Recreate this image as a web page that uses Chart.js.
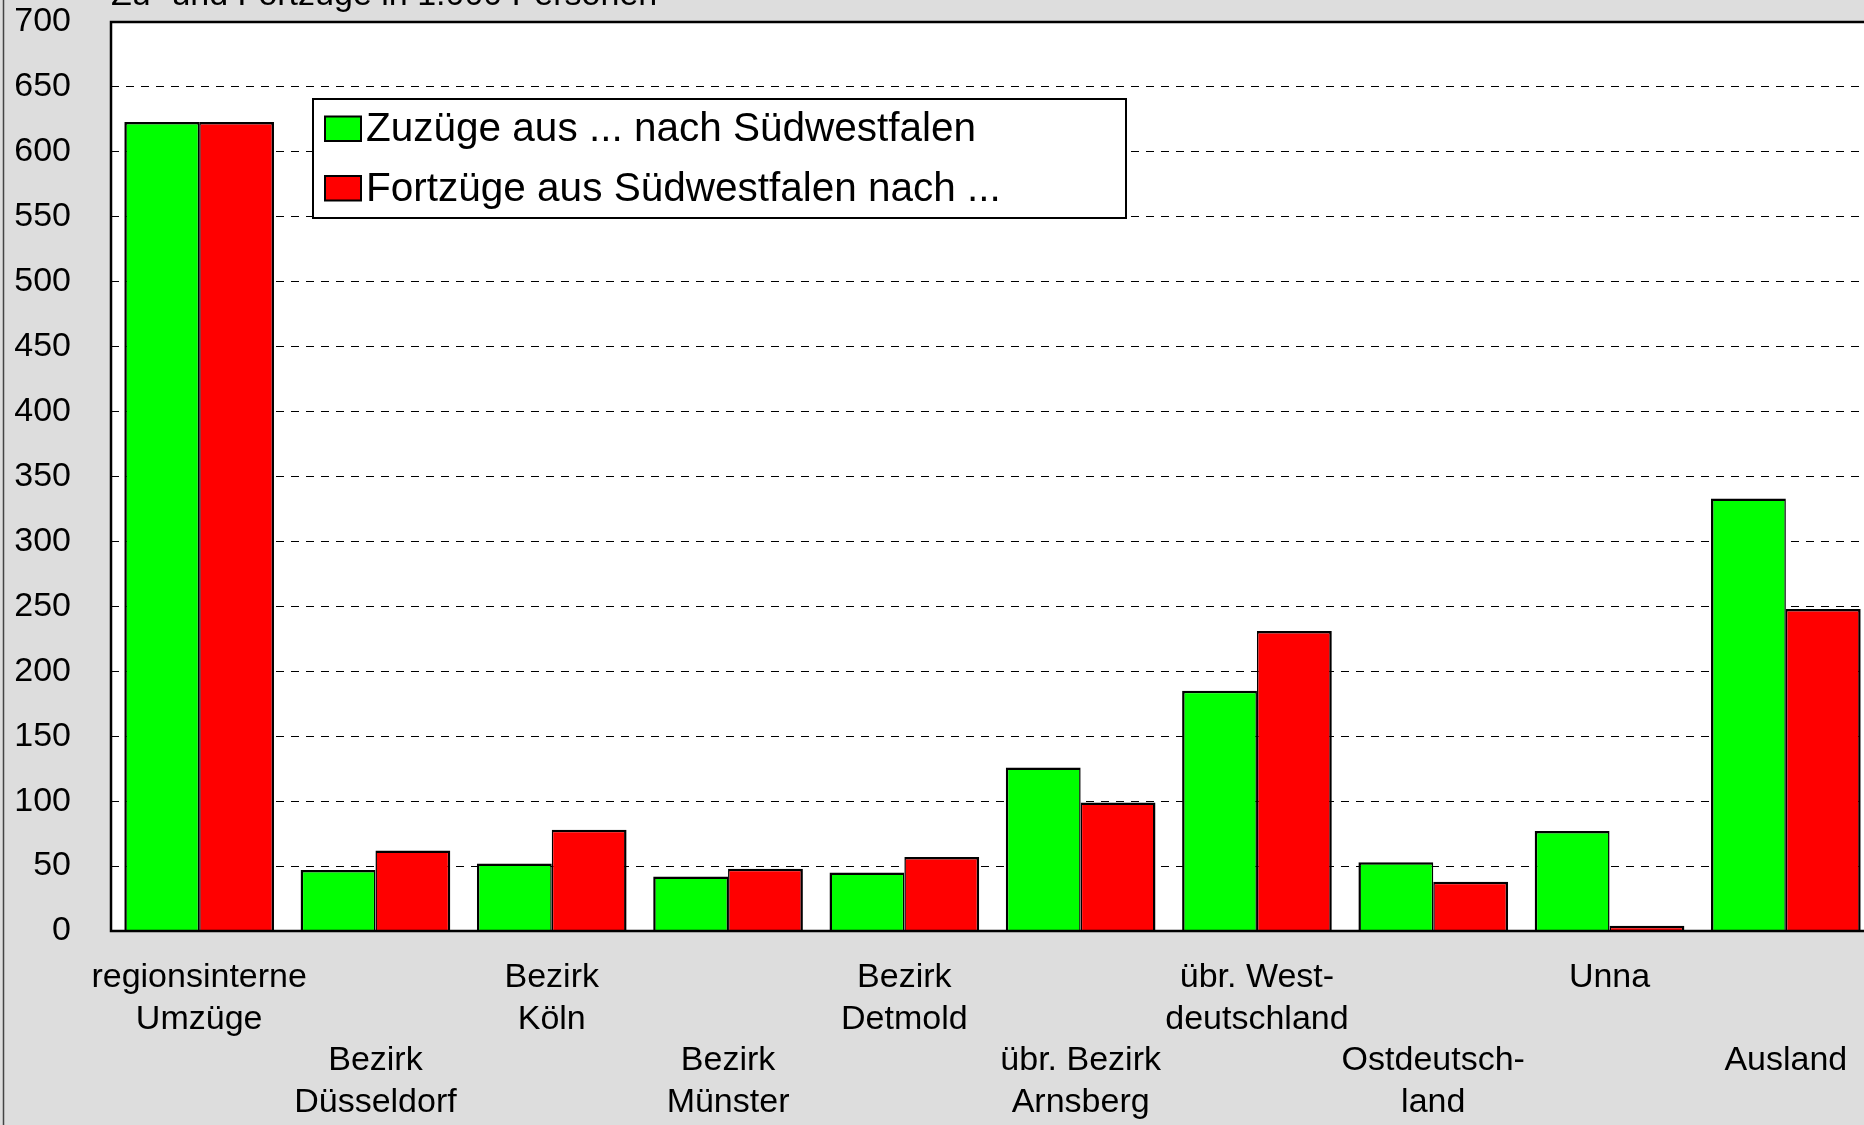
<!DOCTYPE html>
<html>
<head>
<meta charset="utf-8">
<script src="https://cdn.jsdelivr.net/npm/chart.js@4.4.1/dist/chart.umd.min.js"></script>
<style>
  html, body { margin: 0; padding: 0; overflow: hidden; background: #dddddd; }
  canvas { display: block; }
</style>
</head>
<body>
<canvas id="chart" width="1880" height="1125"></canvas>
<script>
const title = 'Zu- und Fortzüge in 1.000 Personen';
const categories = [
    ['regionsinterne', 'Umzüge'],
    ['Bezirk', 'Düsseldorf'],
    ['Bezirk', 'Köln'],
    ['Bezirk', 'Münster'],
    ['Bezirk', 'Detmold'],
    ['übr. Bezirk', 'Arnsberg'],
    ['übr. West-', 'deutschland'],
    ['Ostdeutsch-', 'land'],
    ['Unna'],
    ['Ausland']
];
const seriesNames = ['Zuzüge aus ... nach Südwestfalen', 'Fortzüge aus Südwestfalen nach ...'];
const zuzuege = [623, 47, 52, 42, 45, 126, 185, 53, 77, 333];
const fortzuege = [623, 62, 78, 48, 57, 99, 231, 38, 4, 248];
const yMin = 0;
const yMax = 700;
const yStep = 50;

const FONT = '"Liberation Sans", Arial, sans-serif';
Chart.defaults.font.family = FONT;
Chart.defaults.color = '#000';

const decor = {
    id: 'decor',
    beforeDraw(chart) {
        const {ctx, chartArea: a, width, height} = chart;
        ctx.save();
        ctx.fillStyle = '#dddddd';
        ctx.fillRect(0, 0, width, height);
        ctx.fillStyle = '#ffffff';
        ctx.fillRect(a.left, a.top, a.right - a.left, a.bottom - a.top);
        // outer frame, only the left side is in view
        ctx.strokeStyle = '#444';
        ctx.lineWidth = 1.5;
        ctx.beginPath();
        ctx.moveTo(3.5, 0);
        ctx.lineTo(3.5, height);
        ctx.stroke();
        // title, cut off at the top
        ctx.fillStyle = '#000';
        ctx.font = '34px ' + FONT;
        ctx.textBaseline = 'alphabetic';
        ctx.fillText(title, a.left, 5);
        ctx.restore();
    },
    afterDatasetsDraw(chart) {
        const {ctx, chartArea: a} = chart;
        ctx.save();
        ctx.strokeStyle = '#000';
        ctx.lineWidth = 2.5;
        ctx.strokeRect(a.left, a.top, a.right - a.left, a.bottom - a.top);
        ctx.restore();
    },
    afterDraw(chart) {
        const ctx = chart.ctx;
        const box = {x: 313, y: 99, w: 813, h: 119};
        ctx.save();
        ctx.fillStyle = '#fff';
        ctx.fillRect(box.x, box.y, box.w, box.h);
        ctx.strokeStyle = '#000';
        ctx.lineWidth = 2;
        ctx.strokeRect(box.x, box.y, box.w, box.h);
        ctx.font = '40.5px ' + FONT;
        ctx.textBaseline = 'alphabetic';
        chart.data.datasets.forEach((ds, i) => {
            const base = 141 + i * 59.5;
            ctx.fillStyle = ds.backgroundColor;
            ctx.fillRect(325, base - 24.5, 36, 24.5);
            ctx.lineWidth = 2;
            ctx.strokeRect(325, base - 24.5, 36, 24.5);
            ctx.fillStyle = '#000';
            ctx.fillText(ds.label, 366, base);
        });
        ctx.restore();
    }
};

new Chart(document.getElementById('chart'), {
    type: 'bar',
    data: {
        labels: categories,
        datasets: [{
            label: seriesNames[0],
            data: zuzuege,
            backgroundColor: '#00ff00',
            borderColor: '#000',
            borderWidth: {left: 2.5, right: 1.5, top: 2.5, bottom: 0}
        }, {
            label: seriesNames[1],
            data: fortzuege,
            backgroundColor: '#ff0000',
            borderColor: '#000',
            borderWidth: {left: 1.5, right: 2.5, top: 2.5, bottom: 0}
        }]
    },
    options: {
        responsive: false,
        animation: false,
        categoryPercentage: 0.849,
        barPercentage: 1.0,
        layout: {padding: {top: 22, right: 6, left: 0, bottom: 0}},
        plugins: {
            legend: {display: false},
            title: {display: false},
            tooltip: {enabled: false}
        },
        scales: {
            x: {
                grid: {display: false, drawTicks: false},
                border: {display: false},
                ticks: {
                    autoSkip: false,
                    maxRotation: 0,
                    minRotation: 0,
                    padding: 26,
                    font: {size: 34, lineHeight: 1.22},
                    callback: function (value, index) {
                        const lines = this.getLabelForValue(value);
                        return index % 2 ? ['', ''].concat(lines) : lines;
                    }
                },
                afterFit(scale) { scale.height = 194; }
            },
            y: {
                min: yMin,
                max: yMax,
                grid: {color: '#000', lineWidth: 1, drawTicks: false},
                border: {display: false, dash: [8, 7]},
                ticks: {
                    stepSize: yStep,
                    padding: 40,
                    font: {size: 34}
                },
                afterFit(scale) {
                    scale.width = 111;
                    scale.paddingTop = 0;
                    scale.paddingBottom = 0;
                }
            }
        }
    },
    plugins: [decor]
});
</script>
</body>
</html>
